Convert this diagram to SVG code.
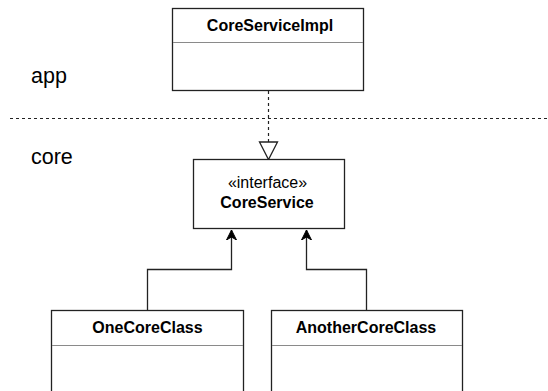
<svg xmlns="http://www.w3.org/2000/svg" width="548" height="391" viewBox="0 0 548 391">
  <style>
    .box { fill: #ffffff; stroke: #222222; stroke-width: 1.3; }
    .div { stroke: #8a8a8a; stroke-width: 1; fill: none; }
    .name { font-family: "Liberation Sans", Arial, sans-serif; font-size: 16px; font-weight: bold; fill: #000; text-anchor: middle; }
    .stereo { font-family: "Liberation Sans", Arial, sans-serif; font-size: 16px; fill: #000; text-anchor: middle; }
    .layer { font-family: "Liberation Sans", Arial, sans-serif; font-size: 21.5px; fill: #000; }
    .edge { fill: none; stroke: #222222; stroke-width: 1.3; }
    .dash { fill: none; stroke: #222222; stroke-width: 1.2; stroke-dasharray: 3 3; }
  </style>
  <defs>
    <marker id="block" markerWidth="10" markerHeight="12" refX="10" refY="6" orient="auto" markerUnits="userSpaceOnUse">
      <path d="M0,1 L10,6 L0,11 L3,6 Z" fill="#000" stroke="#000" stroke-width="1"/>
    </marker>
  </defs>

  <rect width="548" height="391" fill="#ffffff"/>

  <!-- layer labels and boundary -->
  <text class="layer" x="31" y="83">app</text>
  <text class="layer" x="31" y="164">core</text>
  <line class="dash" x1="10" y1="118.5" x2="548" y2="118.5"/>

  <g id="connectors">
    <!-- realization: CoreServiceImpl to CoreService -->
    <line class="dash" x1="268.5" y1="91" x2="268.5" y2="142"/>
    <path d="M259.5,142 L277.5,142 L268.5,159.5 Z" fill="#ffffff" stroke="#222222" stroke-width="1.3"/>
    <!-- dependencies to CoreService -->
    <path class="edge" d="M147.5,310.5 V269.5 H231.5 V230" marker-end="url(#block)"/>
    <path class="edge" d="M366.5,310.5 V269.5 H306.5 V230" marker-end="url(#block)"/>
  </g>

  <g id="CoreServiceImpl">
    <rect class="box" x="172.5" y="8.5" width="191" height="82"/>
    <line class="div" x1="173" y1="42.5" x2="363" y2="42.5"/>
    <text class="name" x="270" y="31">CoreServiceImpl</text>
  </g>

  <g id="CoreService">
    <rect class="box" x="193.5" y="159.5" width="151" height="69"/>
    <text class="stereo" x="267.5" y="188">«interface»</text>
    <text class="name" x="267" y="208">CoreService</text>
  </g>

  <g id="OneCoreClass">
    <rect class="box" x="51.5" y="310.5" width="192" height="90"/>
    <line class="div" x1="52" y1="345.5" x2="243" y2="345.5"/>
    <text class="name" x="147.5" y="333">OneCoreClass</text>
  </g>

  <g id="AnotherCoreClass">
    <rect class="box" x="271.5" y="310.5" width="191" height="90"/>
    <line class="div" x1="272" y1="345.5" x2="462" y2="345.5"/>
    <text class="name" x="366" y="333">AnotherCoreClass</text>
  </g>
</svg>
